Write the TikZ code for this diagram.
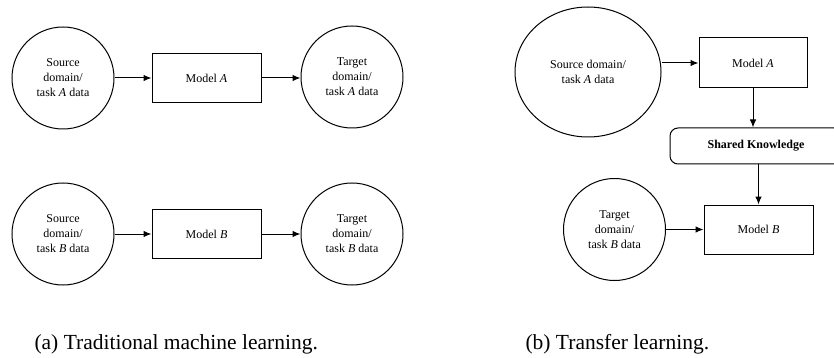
\documentclass[tikz,border=0pt]{standalone}
\usepackage{fontspec}
\setmainfont{Liberation Serif}
\usetikzlibrary{arrows.meta,shapes.geometric}

\begin{document}
\begin{tikzpicture}[x=1pt, y=-1pt, >={Latex[length=8pt,width=6.5pt]},
	every node/.style={font=\fontsize{12}{15}\selectfont, align=center},
	datacirc/.style={draw, circle, line width=1pt, minimum size=102pt, inner sep=0pt},
	dataoval/.style={draw, ellipse, line width=1pt, minimum width=146pt, minimum height=130pt, inner sep=0pt},
	modelbox/.style={draw, rectangle, line width=1pt, minimum width=109pt, minimum height=49pt},
	knowbox/.style={draw, rectangle, rounded corners=8pt, line width=1pt, minimum width=172pt, minimum height=36pt},
	link/.style={->, line width=1pt},
	caption/.style={font=\fontsize{21.5}{25}\selectfont, anchor=base west}]
	\useasboundingbox (0,0) rectangle (834,358);
	% (a) traditional
	\node[datacirc] (srcA) at (63,78) {Source\\domain/\\task \textit{A} data};
	\node[modelbox] (modelA) at (206.5,78) {Model \textit{A}};
	\node[datacirc] (tgtA) at (352,77) {Target\\domain/\\task \textit{A} data};
	\node[datacirc] (srcB) at (63,234) {Source\\domain/\\task \textit{B} data};
	\node[modelbox] (modelB) at (206.5,234) {Model \textit{B}};
	\node[datacirc] (tgtB) at (352,234) {Target\\domain/\\task \textit{B} data};
	\draw[link] (srcA) -- (modelA);
	\draw[link] (modelA.east) -- (modelA.east -| tgtA.west);
	\draw[link] (srcB) -- (modelB);
	\draw[link] (modelB) -- (tgtB);
	% (b) transfer
	\node[dataoval] (srcT) at (588,72) {Source domain/\\task \textit{A} data};
	\node[modelbox, minimum width=108pt, minimum height=50pt] (mA) at (753,63) {Model \textit{A}};
	\node[knowbox] (shared) at (756,146) {\textbf{Shared Knowledge}};
	\node[modelbox] (mB) at (758.5,229.5) {Model \textit{B}};
	\node[datacirc] (tgtT) at (614.5,229.5) {Target\\domain/\\task \textit{B} data};
	\draw[link] (mA.west -| srcT.east) -- (mA.west);
	\draw[link] (mA.south) -- (mA.south |- shared.north);
	\draw[link] (mB.north |- shared.south) -- (mB.north);
	\draw[link] (tgtT) -- (mB);
	% Captions
	\node[caption] (capA) at (31,349) {(a) Traditional machine learning.};
	\node[caption] (capB) at (522,349) {(b) Transfer learning.};
\end{tikzpicture}
\end{document}
